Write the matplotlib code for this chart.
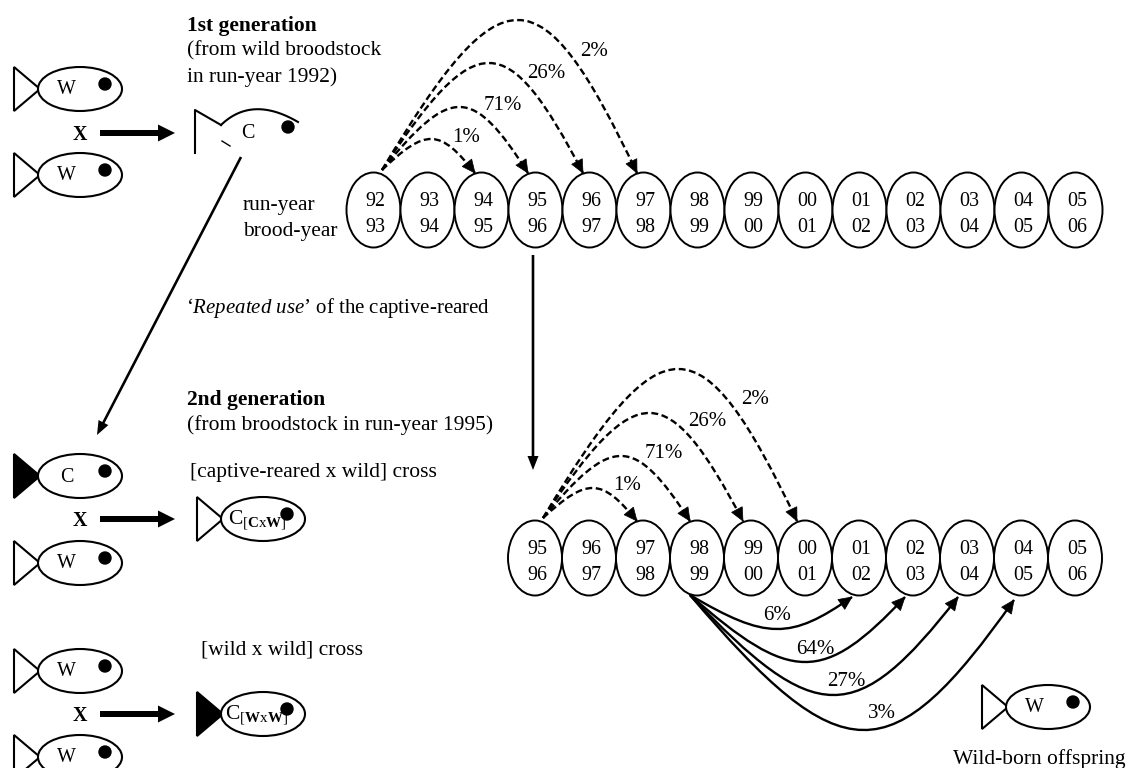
import numpy as np
import matplotlib
matplotlib.use('Agg')
import matplotlib.pyplot as plt
from matplotlib.patches import Ellipse, Polygon, Circle, PathPatch, FancyArrow
from matplotlib.path import Path

plt.rcParams['font.family'] = ['Liberation Serif', 'DejaVu Serif']
plt.rcParams['mathtext.fontset'] = 'custom'
plt.rcParams['mathtext.rm'] = 'Liberation Serif'
plt.rcParams['mathtext.it'] = 'Liberation Serif:italic'
plt.rcParams['mathtext.bf'] = 'Liberation Serif:bold'

# year labels in the ovals
run_top = ['92', '93', '94', '95', '96', '97', '98', '99', '00', '01', '02', '03', '04', '05']
brood_top = ['93', '94', '95', '96', '97', '98', '99', '00', '01', '02', '03', '04', '05', '06']
run_low = ['95', '96', '97', '98', '99', '00', '01', '02', '03', '04', '05']
brood_low = ['96', '97', '98', '99', '00', '01', '02', '03', '04', '05', '06']

# age shares
dashed_pct = ['1%', '71%', '26%', '2%']
solid_pct = ['6%', '64%', '27%', '3%']

fs = 15.5
fs_small = 14.4
fs_pct = 15

fig = plt.figure(figsize=(11.28, 7.68), dpi=100)
ax = fig.add_axes([0, 0, 1, 1])
ax.set_xlim(0, 1128)
ax.set_ylim(768, 0)
ax.axis('off')


def fish(x, y, label, filled=False, eye_dx=0, txt_dx=0, txt_size=fs_small):
    # x is the back edge of the tail, y the body centre
    ax.add_patch(Polygon([(x, y - 22), (x + 26, y), (x, y + 22)], closed=True,
                         fc='k' if filled else 'w', ec='k', lw=1.5, zorder=2))
    ax.add_patch(Ellipse((x + 66, y), 84, 44, fc='w', ec='k', lw=1.5, zorder=3))
    ax.add_patch(Circle((x + 91 + eye_dx, y - 5), 6, fc='k', ec='k', zorder=5))
    ax.text(x + 52 + txt_dx, y + 1, label, ha='center', va='center', fontsize=txt_size, zorder=4)


def fat_arrow(y):
    ax.text(80, y + 2, 'X', ha='center', va='center', fontsize=fs_small, fontweight='bold')
    ax.add_patch(FancyArrow(100, y, 75, 0, width=6, head_width=17, head_length=17,
                            length_includes_head=True, fc='k', ec='k', lw=0))


def curve(x0, x1, y0, y1, yext, dashed):
    # cubic curve from start to end passing through yext halfway
    yc = (8 * yext - y0 - y1) / 6
    dx = x1 - x0
    p1 = (x0 + 0.47 * dx, yc)
    p2 = (x0 + 0.62 * dx, yc)
    verts = [(x0, y0), p1, p2, (x1, y1)]
    codes = [Path.MOVETO, Path.CURVE4, Path.CURVE4, Path.CURVE4]
    ls = (0, (2.9, 1.5)) if dashed else '-'
    ax.add_patch(PathPatch(Path(verts, codes), fc='none', ec='k', lw=1.7, ls=ls, zorder=6))
    # arrow head follows the end tangent
    ang = np.arctan2(y1 - p2[1], x1 - p2[0])
    ux, uy = np.cos(ang), np.sin(ang)
    L, W = 13, 6
    ax.add_patch(Polygon([(x1, y1), (x1 - L * ux - W * uy, y1 - L * uy + W * ux),
                          (x1 - L * ux + W * uy, y1 - L * uy - W * ux)],
                         closed=True, fc='k', ec='k', lw=0.5, zorder=7))


def oval_row(x0, step, yc, tops, bottoms):
    for i, (a, b) in enumerate(zip(tops, bottoms)):
        x = x0 + i * step
        ax.add_patch(Ellipse((x, yc), 54, 75, fc='w', ec='k', lw=1.4, zorder=3))
        ax.text(x + 2, yc - 9, a, ha='center', va='center', fontsize=fs_small, zorder=4)
        ax.text(x + 2, yc + 18, b, ha='center', va='center', fontsize=fs_small, zorder=4)


def caption(x, y, s, **kw):
    ax.text(x, y + 2.5, s, va='center', **kw)


# left column of fish
fish(14, 89, 'W')
fish(14, 175, 'W')
fat_arrow(133)

# the captive-reared fish of the 1st generation is drawn open
ax.plot([195, 195, 221], [153, 110, 125], color='k', lw=1.5)
t = np.linspace(0, 1, 40)
ax.plot((1 - t)**2 * 221 + 2 * t * (1 - t) * 252 + t**2 * 298,
        (1 - t)**2 * 125 + 2 * t * (1 - t) * 95 + t**2 * 122, color='k', lw=1.5)
ax.plot([222, 230], [141, 146], color='k', lw=1)
ax.add_patch(Circle((288, 127), 6, fc='k', ec='k'))
ax.text(248, 133, 'C', ha='center', va='center', fontsize=fs_small)

fish(14, 476, 'C', filled=True, txt_dx=1)
fish(14, 563, 'W')
fat_arrow(519)
fish(197, 519, r'C$_{[\mathbf{C}\mathrm{x}\mathbf{W}]}$', eye_dx=-1, txt_dx=8, txt_size=fs)

fish(14, 671, 'W')
fish(14, 757, 'W')
fat_arrow(714)
fish(197, 714, r'C$_{[\mathbf{W}\mathrm{x}\mathbf{W}]}$', filled=True, eye_dx=-1, txt_dx=8, txt_size=fs)

fish(982, 707, 'W')

# oval rows
oval_row(373.5, 54, 210, run_top, brood_top)
oval_row(535, 54, 558, run_low, brood_low)

# long arrows
for x0, y0, x1, y1 in [(241, 157, 97, 435), (533, 255, 533, 500 - 30)]:
    ax.add_patch(FancyArrow(x0, y0, x1 - x0, y1 - y0, width=2.6, head_width=11, head_length=14,
                            length_includes_head=True, fc='k', ec='k', lw=0))

# dashed arcs, top row
for x1, yext, lab, lx, ly in zip([475, 528, 583, 637], [139, 107, 63, 20], dashed_pct,
                                 [466, 503, 546, 594], [137, 105, 73, 51]):
    curve(382, x1, 170, 173, yext, True)
    ax.text(lx, ly, lab, ha='center', va='center', fontsize=fs_pct, zorder=8)

# dashed arcs, lower row
for x1, yext, lab, lx, ly in zip([637, 690, 743, 797], [488, 456, 413, 369], dashed_pct,
                                 [627, 664, 707, 755], [486, 454, 421, 400]):
    curve(543, x1, 518, 521, yext, True)
    ax.text(lx, ly, lab, ha='center', va='center', fontsize=fs_pct, zorder=8)

# solid arcs
for x1, y1, yext, lab, lx, ly in zip([852, 905, 958, 1014], [597, 597, 597, 600], [629, 662, 695, 730],
                                     solid_pct, [777, 815, 846, 882], [616, 649, 681, 713]):
    curve(690, x1, 595, y1, yext, False)
    ax.text(lx, ly, lab, ha='center', va='center', fontsize=fs_pct, zorder=8)

# captions
caption(187, 23, '1st generation', fontsize=fs, fontweight='bold')
caption(187, 48, '(from wild broodstock', fontsize=fs)
caption(187, 75, 'in run-year 1992)', fontsize=fs)
caption(243, 203, 'run-year', fontsize=fs)
caption(243, 229, 'brood-year', fontsize=fs)
caption(186, 305, "\u2018$\\mathit{Repeated\\ use}$\u2019 of the captive-reared", fontsize=fs - 0.5)
caption(187, 397, '2nd generation', fontsize=fs, fontweight='bold')
caption(187, 423, '(from broodstock in run-year 1995)', fontsize=fs)
caption(190, 470, '[captive-reared x wild] cross', fontsize=fs)
caption(201, 647, '[wild x wild] cross', fontsize=fs)
caption(953, 757, 'Wild-born offspring', fontsize=fs)

fig.savefig('out.png', dpi=100)
